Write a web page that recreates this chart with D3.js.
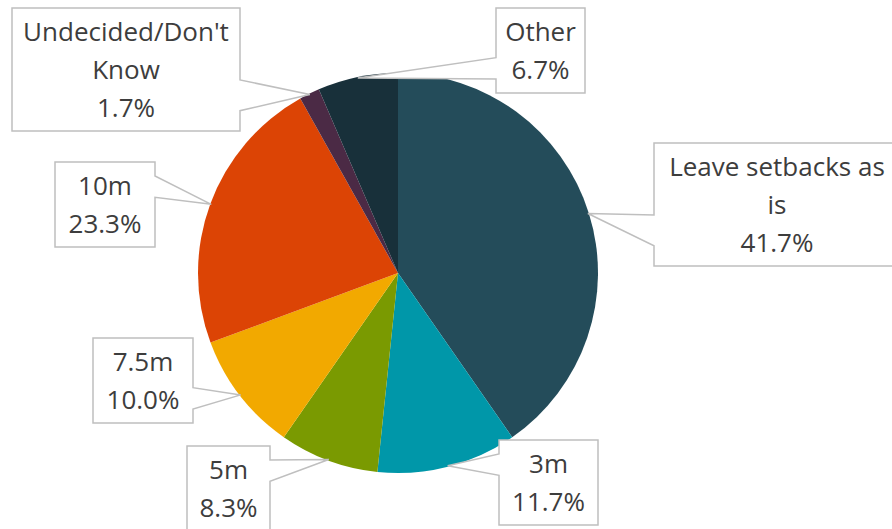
<!DOCTYPE html>
<html>
<head>
<meta charset="utf-8">
<script src="https://cdn.jsdelivr.net/npm/d3@7"></script>
<style>
  html, body { margin: 0; padding: 0; background: #fff; }
  svg { display: block; }
</style>
</head>
<body>
<svg id="chart" width="892" height="529"></svg>
<script>
// Preferred setback options (share of responses)
const categories = ["Leave setbacks as is", "3m", "5m", "7.5m", "10m", "Undecided/Don't Know", "Other"];
const values = [41.7, 11.7, 8.3, 10.0, 23.3, 1.7, 6.7];
const labelLines = [["Leave setbacks as", "is"], ["3m"], ["5m"], ["7.5m"], ["10m"], ["Undecided/Don't", "Know"], ["Other"]];
const colors = ["#244c5a", "#0097a9", "#7a9a01", "#f2a900", "#dc4405", "#4b2a45", "#18303a"];

// Callout box placement (top-left corner and width), one per category
const boxLayout = [
  { x: 654, y: 143, w: 246 },
  { x: 499, y: 440, w: 99 },
  { x: 187, y: 446, w: 83 },
  { x: 93,  y: 338, w: 100 },
  { x: 55,  y: 162, w: 100 },
  { x: 12,  y: 8,   w: 228 },
  { x: 496, y: 8,   w: 89 }
];

const W = 892, H = 529;
const cx = 398, cy = 273, R = 200;
const fontSize = 26, lineGap = 38, padTop = 24;
const fmt = d3.format(".1f");

const svg = d3.select("#chart");

const data = categories.map((c, i) => ({ name: c, value: values[i], lines: labelLines[i], color: colors[i], box: boxLayout[i] }));

const pie = d3.pie().sort(null).value(d => d.value).startAngle(0).endAngle(2 * Math.PI);
const arc = d3.arc().innerRadius(0).outerRadius(R);
const arcs = pie(data);

const g = svg.append("g").attr("transform", `translate(${cx},${cy})`);
g.selectAll("path.slice")
  .data(arcs)
  .join("path")
  .attr("class", "slice")
  .attr("d", arc)
  .attr("fill", d => d.data.color);

// Callouts: rectangle with a wedge pointing at the middle of each slice's outer edge
const callouts = svg.append("g").attr("class", "callouts");

arcs.forEach(a => {
  const d = a.data;
  const mid = (a.startAngle + a.endAngle) / 2;
  const tip = [cx + (R - 1) * Math.sin(mid), cy - (R - 1) * Math.cos(mid)];
  const nLines = d.lines.length + 1;
  const h = padTop * 2 + lineGap * (nLines - 1) - 1;
  const { x, y, w } = d.box;
  const x2 = x + w, y2 = y + h;

  const frac = tip[1] < y + h / 2 ? 0.29 : 0.71;
  const bc = y + h * frac;
  const half = h * 0.125;
  const b1 = bc - half, b2 = bc + half;

  let p;
  if (tip[0] < x) {
    // wedge on the left side
    p = `M${x},${y}H${x2}V${y2}H${x}V${b2}L${tip[0]},${tip[1]}L${x},${b1}Z`;
  } else {
    // wedge on the right side
    p = `M${x},${y}H${x2}V${b1}L${tip[0]},${tip[1]}L${x2},${b2}V${y2}H${x}Z`;
  }

  callouts.append("path")
    .attr("d", p)
    .attr("fill", "#fff")
    .attr("stroke", "#bfbfbf")
    .attr("stroke-width", 1.5)
    .attr("stroke-linejoin", "miter");

  const text = callouts.append("text")
    .attr("text-anchor", "middle")
    .attr("font-family", "'Open Sans', 'Noto Sans', sans-serif")
    .attr("font-size", fontSize)
    .attr("fill", "#3d3d3d");

  const lines = d.lines.concat([fmt(d.value) + "%"]);
  lines.forEach((t, i) => {
    text.append("tspan")
      .attr("x", x + w / 2)
      .attr("y", y + padTop + lineGap * i + fontSize * 0.36)
      .text(t);
  });
});
</script>
</body>
</html>
